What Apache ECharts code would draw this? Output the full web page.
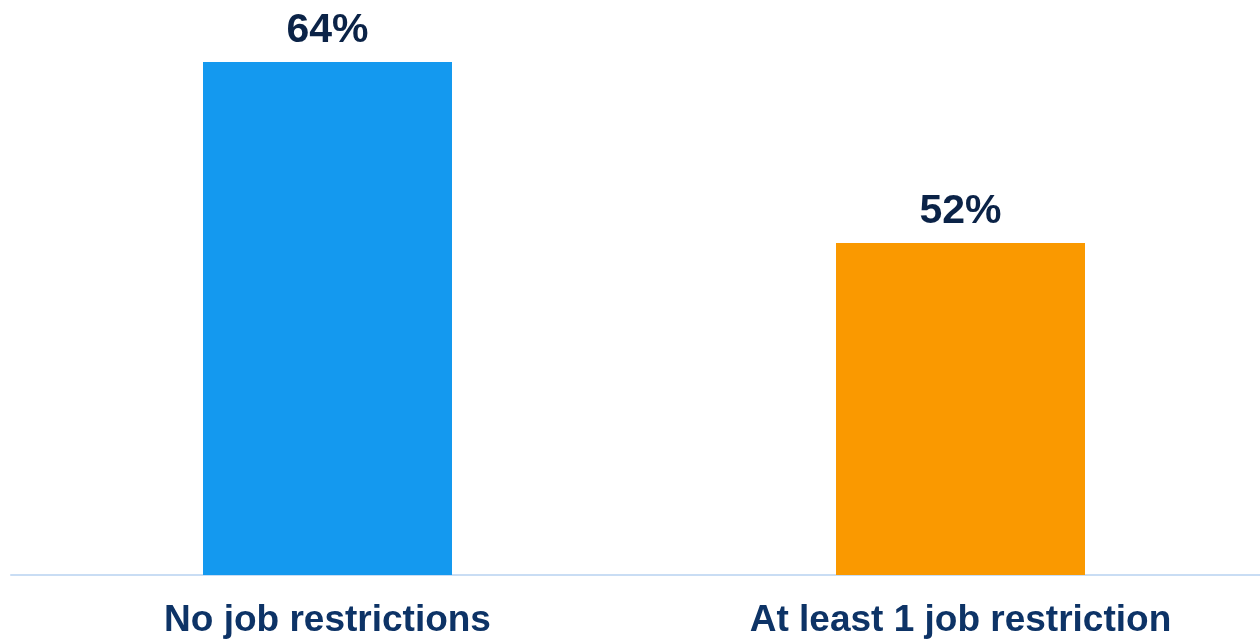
<!DOCTYPE html>
<html>
<head>
<meta charset="utf-8">
<script src="https://cdn.jsdelivr.net/npm/echarts@6/dist/echarts.min.js"></script>
<style>
  html, body { margin: 0; padding: 0; background: #ffffff; overflow: hidden; }
  /* the plot runs a little past the right edge of the window */
  #chart { width: 1277px; height: 640px; }
</style>
</head>
<body>
<div id="chart"></div>
<script>
// Share of workers, by job-restriction group
const categories = ['No job restrictions', 'At least 1 job restriction'];
const values = [64, 52];
const barColors = ['#1499EF', '#FA9900'];

const chart = echarts.init(document.getElementById('chart'));
chart.setOption({
  animation: false,
  grid: { left: 11, right: 0, top: 62, bottom: 65, containLabel: false },
  xAxis: {
    type: 'category',
    data: categories,
    axisLine: { show: true, lineStyle: { color: '#C9DDF4', width: 2 } },
    axisTick: { show: false },
    axisLabel: {
      color: '#0D3366',
      fontFamily: 'Liberation Sans, Arial, sans-serif',
      fontWeight: 'bold',
      fontSize: 37,
      margin: 27
    }
  },
  yAxis: {
    type: 'value',
    min: 30,
    max: 64,
    show: false,
    splitLine: { show: false }
  },
  series: [{
    type: 'bar',
    barWidth: 249,
    data: values.map((v, i) => ({ value: v, itemStyle: { color: barColors[i] } })),
    label: {
      show: true,
      position: 'top',
      distance: 11,
      formatter: '{c}%',
      color: '#0B2347',
      fontFamily: 'Liberation Sans, Arial, sans-serif',
      fontWeight: 'bold',
      fontSize: 41
    }
  }]
});
</script>
</body>
</html>
